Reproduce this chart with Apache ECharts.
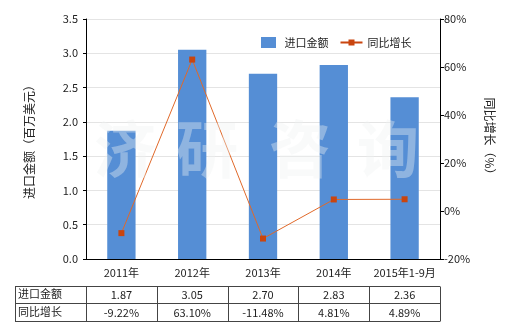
<!DOCTYPE html>
<html><head><meta charset="utf-8">
<script src="https://cdn.jsdelivr.net/npm/echarts@6/dist/echarts.min.js"></script>
<style>html,body{margin:0;padding:0;background:#fff}#c{width:520px;height:330px}</style>
</head><body><div id="c"></div>
<script>
var categories = ['2011年','2012年','2013年','2014年','2015年1-9月'];
var importValues = [1.87, 3.05, 2.70, 2.83, 2.36];
var growthValues = [-9.22, 63.10, -11.48, 4.81, 4.89];
var importLabels = ['1.87','3.05','2.70','2.83','2.36'];
var growthLabels = ['-9.22%','63.10%','-11.48%','4.81%','4.89%'];
var rowNames = ['进口金额','同比增长'];
var watermark = ['济','研','咨','询'];

var FONT = '"Noto Sans CJK SC", "Noto Sans", sans-serif';
var chart = echarts.init(document.getElementById('c'));
var txt = '#222';
chart.setOption({
  animation: false,
  textStyle: {fontFamily: FONT},
  grid: {left: 86, right: 80, top: 19, bottom: 71},
  legend: {
    top: 32, left: 256, itemGap: 12, itemWidth: 22, itemHeight: 11,
    textStyle: {fontSize: 11, color: txt, fontFamily: FONT},
    data: [
      {name: '进口金额', icon: 'path://M0,0 H15 V11 H0 Z'},
      {name: '同比增长', icon: 'path://M0,4 H8 V2 H14 V4 H22 V6 H14 V8 H8 V6 H0 Z'}
    ]
  },
  xAxis: {
    type: 'category', data: categories,
    axisLine: {lineStyle: {color: '#000'}},
    axisTick: {alignWithLabel: true, length: 3, lineStyle: {color: '#000'}},
    axisLabel: {interval: 0, fontSize: 11, color: txt, margin: 8, fontFamily: FONT}
  },
  yAxis: [{
    type: 'value', min: 0, max: 3.5, interval: 0.5,
    name: '进口金额（百万美元）', nameLocation: 'middle', nameGap: 51,
    nameTextStyle: {fontSize: 12, color: txt, fontFamily: FONT},
    axisLine: {show: true, lineStyle: {color: '#000'}},
    axisTick: {show: true, length: 3, lineStyle: {color: '#000'}},
    axisLabel: {fontSize: 11, color: txt, formatter: function(v){return v.toFixed(1);}, fontFamily: FONT},
    splitLine: {lineStyle: {color: '#e4e4e4'}}
  }, {
    type: 'value', min: -20, max: 80, interval: 20,
    name: '同比增长（%）', nameLocation: 'middle', nameGap: 44, nameRotate: -90,
    nameTextStyle: {fontSize: 12, color: txt, fontFamily: FONT},
    axisLine: {show: true, lineStyle: {color: '#000'}},
    axisTick: {show: true, length: 4, lineStyle: {color: '#000'}},
    axisLabel: {fontSize: 11, color: txt, formatter: '{value}%', margin: 4, fontFamily: FONT},
    splitLine: {show: false}
  }],
  series: [{
    name: '进口金额', type: 'bar', data: importValues, barWidth: '40%',
    itemStyle: {color: '#558ed5'}
  }, {
    name: '同比增长', type: 'line', yAxisIndex: 1, data: growthValues,
    symbol: 'rect', symbolSize: 6,
    lineStyle: {color: '#e0692a', width: 1},
    itemStyle: {color: '#c9450f'}
  }]
});

function build() {
  var els = [];
  var c0 = chart.convertToPixel({xAxisIndex: 0}, 0);
  var c1 = chart.convertToPixel({xAxisIndex: 0}, 1);
  var w = c1 - c0;
  var left = 15, colStart = c0 - w / 2;
  var n = categories.length;
  var right = colStart + w * n;
  var top = 285.5, rh = 17.5;
  var wmY = chart.convertToPixel({yAxisIndex: 0}, 1.6);
  var wmX = [125, 207, 300, 388];
  watermark.forEach(function(ch, i){
    els.push({type: 'text', z: 50, style: {text: ch, x: wmX[i], y: wmY, align: 'center', verticalAlign: 'middle',
      font: 'bold 62px ' + FONT, fill: 'rgba(238,243,243,0.38)'}});
  });
  var ls = {stroke: '#444', lineWidth: 1};
  for (var r = 0; r <= 2; r++) {
    var y = Math.round(top + r * rh) + 0.5;
    els.push({type: 'line', shape: {x1: left, y1: y, x2: right, y2: y}, style: ls});
  }
  var xs = [left];
  for (var i = 0; i <= n; i++) xs.push(colStart + w * i);
  xs.forEach(function(x){
    x = Math.round(x) + 0.5;
    els.push({type: 'line', shape: {x1: x, y1: Math.round(top) + 0.5, x2: x, y2: Math.round(top + 2 * rh) + 0.5}, style: ls});
  });
  var rows = [importLabels, growthLabels];
  rows.forEach(function(row, r){
    var cy = top + rh * (r + 0.5);
    els.push({type: 'text', style: {text: rowNames[r], x: left + 3, y: cy, verticalAlign: 'middle', font: '11px ' + FONT, fill: txt}});
    row.forEach(function(t, i){
      els.push({type: 'text', style: {text: t, x: colStart + w * (i + 0.5), y: cy + 1, align: 'center', verticalAlign: 'middle', font: '11px ' + FONT, fill: txt}});
    });
  });
  chart.setOption({graphic: els});
}
build();
</script></body></html>
